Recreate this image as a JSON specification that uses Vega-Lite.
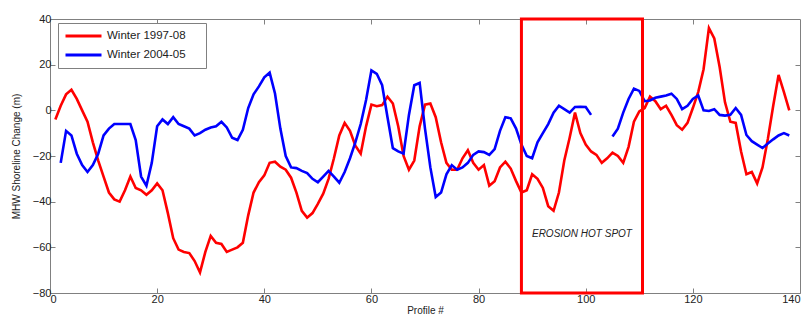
{
  "$schema": "https://vega.github.io/schema/vega-lite/v6.json",
  "width": 750,
  "height": 274,
  "autosize": {"type": "none"},
  "padding": {"left": 50, "top": 19, "right": 8, "bottom": 27},
  "background": "white",
  "config": {
    "font": "Liberation Sans",
    "view": {"stroke": "#808080", "strokeWidth": 1},
    "axis": {
      "domain": false,
      "grid": false,
      "tickColor": "#808080",
      "tickSize": -5,
      "labelColor": "#222222",
      "labelFontSize": 11,
      "titleColor": "#222222",
      "titleFontSize": 10,
      "titleFontWeight": "normal"
    }
  },
  "resolve": {"axis": {"x": "independent", "y": "independent"}},
  "datasets": {
    "lines": [
      {"p":1,"Winter 1997-08":-4,"Winter 2004-05":null},
      {"p":2,"Winter 1997-08":2,"Winter 2004-05":-23},
      {"p":3,"Winter 1997-08":7,"Winter 2004-05":-9},
      {"p":4,"Winter 1997-08":9,"Winter 2004-05":-11},
      {"p":5,"Winter 1997-08":5,"Winter 2004-05":-19},
      {"p":6,"Winter 1997-08":0,"Winter 2004-05":-24},
      {"p":7,"Winter 1997-08":-5,"Winter 2004-05":-27},
      {"p":8,"Winter 1997-08":-14,"Winter 2004-05":-24},
      {"p":9,"Winter 1997-08":-22,"Winter 2004-05":-19},
      {"p":10,"Winter 1997-08":-29,"Winter 2004-05":-11},
      {"p":11,"Winter 1997-08":-36,"Winter 2004-05":-8},
      {"p":12,"Winter 1997-08":-39,"Winter 2004-05":-6},
      {"p":13,"Winter 1997-08":-40,"Winter 2004-05":-6},
      {"p":14,"Winter 1997-08":-35,"Winter 2004-05":-6},
      {"p":15,"Winter 1997-08":-29,"Winter 2004-05":-6},
      {"p":16,"Winter 1997-08":-34,"Winter 2004-05":-13},
      {"p":17,"Winter 1997-08":-35,"Winter 2004-05":-29},
      {"p":18,"Winter 1997-08":-37,"Winter 2004-05":-33},
      {"p":19,"Winter 1997-08":-35,"Winter 2004-05":-23},
      {"p":20,"Winter 1997-08":-32,"Winter 2004-05":-7},
      {"p":21,"Winter 1997-08":-35,"Winter 2004-05":-4},
      {"p":22,"Winter 1997-08":-45,"Winter 2004-05":-6},
      {"p":23,"Winter 1997-08":-56,"Winter 2004-05":-3},
      {"p":24,"Winter 1997-08":-61,"Winter 2004-05":-6},
      {"p":25,"Winter 1997-08":-62,"Winter 2004-05":-7},
      {"p":26,"Winter 1997-08":-62.5,"Winter 2004-05":-8},
      {"p":27,"Winter 1997-08":-66,"Winter 2004-05":-11},
      {"p":28,"Winter 1997-08":-71,"Winter 2004-05":-10},
      {"p":29,"Winter 1997-08":-62,"Winter 2004-05":-8.5},
      {"p":30,"Winter 1997-08":-55,"Winter 2004-05":-7.5},
      {"p":31,"Winter 1997-08":-58,"Winter 2004-05":-7},
      {"p":32,"Winter 1997-08":-58.5,"Winter 2004-05":-5},
      {"p":33,"Winter 1997-08":-62,"Winter 2004-05":-7.5},
      {"p":34,"Winter 1997-08":-61,"Winter 2004-05":-12},
      {"p":35,"Winter 1997-08":-60,"Winter 2004-05":-13},
      {"p":36,"Winter 1997-08":-58,"Winter 2004-05":-8.5},
      {"p":37,"Winter 1997-08":-46,"Winter 2004-05":1},
      {"p":38,"Winter 1997-08":-36,"Winter 2004-05":7},
      {"p":39,"Winter 1997-08":-31.5,"Winter 2004-05":10.5},
      {"p":40,"Winter 1997-08":-28.5,"Winter 2004-05":14.5},
      {"p":41,"Winter 1997-08":-23,"Winter 2004-05":16.5},
      {"p":42,"Winter 1997-08":-22.5,"Winter 2004-05":7.4},
      {"p":43,"Winter 1997-08":-24.7,"Winter 2004-05":-8},
      {"p":44,"Winter 1997-08":-26,"Winter 2004-05":-20},
      {"p":45,"Winter 1997-08":-29.5,"Winter 2004-05":-25},
      {"p":46,"Winter 1997-08":-36,"Winter 2004-05":-25.3},
      {"p":47,"Winter 1997-08":-44,"Winter 2004-05":-26.5},
      {"p":48,"Winter 1997-08":-47,"Winter 2004-05":-27.5},
      {"p":49,"Winter 1997-08":-45,"Winter 2004-05":-30},
      {"p":50,"Winter 1997-08":-41,"Winter 2004-05":-31.5},
      {"p":51,"Winter 1997-08":-36.5,"Winter 2004-05":-29},
      {"p":52,"Winter 1997-08":-30,"Winter 2004-05":-26.5},
      {"p":53,"Winter 1997-08":-21,"Winter 2004-05":-29},
      {"p":54,"Winter 1997-08":-11,"Winter 2004-05":-31.7},
      {"p":55,"Winter 1997-08":-5.5,"Winter 2004-05":-27},
      {"p":56,"Winter 1997-08":-9,"Winter 2004-05":-21},
      {"p":57,"Winter 1997-08":-15.5,"Winter 2004-05":-14},
      {"p":58,"Winter 1997-08":-19,"Winter 2004-05":-6},
      {"p":59,"Winter 1997-08":-7,"Winter 2004-05":4.5},
      {"p":60,"Winter 1997-08":2.5,"Winter 2004-05":17.5},
      {"p":61,"Winter 1997-08":1.8,"Winter 2004-05":16},
      {"p":62,"Winter 1997-08":2.3,"Winter 2004-05":11},
      {"p":63,"Winter 1997-08":6,"Winter 2004-05":-3},
      {"p":64,"Winter 1997-08":3,"Winter 2004-05":-16.6},
      {"p":65,"Winter 1997-08":-7,"Winter 2004-05":-18},
      {"p":66,"Winter 1997-08":-20,"Winter 2004-05":-19},
      {"p":67,"Winter 1997-08":-26,"Winter 2004-05":-2},
      {"p":68,"Winter 1997-08":-22,"Winter 2004-05":11},
      {"p":69,"Winter 1997-08":-7,"Winter 2004-05":12},
      {"p":70,"Winter 1997-08":2.5,"Winter 2004-05":-8},
      {"p":71,"Winter 1997-08":3,"Winter 2004-05":-25},
      {"p":72,"Winter 1997-08":-3,"Winter 2004-05":-38},
      {"p":73,"Winter 1997-08":-14,"Winter 2004-05":-36},
      {"p":74,"Winter 1997-08":-23,"Winter 2004-05":-28},
      {"p":75,"Winter 1997-08":-26,"Winter 2004-05":-24},
      {"p":76,"Winter 1997-08":-26,"Winter 2004-05":-26},
      {"p":77,"Winter 1997-08":-21,"Winter 2004-05":-25},
      {"p":78,"Winter 1997-08":-17.5,"Winter 2004-05":-23},
      {"p":79,"Winter 1997-08":-23,"Winter 2004-05":-19.5},
      {"p":80,"Winter 1997-08":-26,"Winter 2004-05":-18},
      {"p":81,"Winter 1997-08":-24,"Winter 2004-05":-18.3},
      {"p":82,"Winter 1997-08":-33,"Winter 2004-05":-19.5},
      {"p":83,"Winter 1997-08":-31,"Winter 2004-05":-17},
      {"p":84,"Winter 1997-08":-25,"Winter 2004-05":-9},
      {"p":85,"Winter 1997-08":-22.5,"Winter 2004-05":-3},
      {"p":86,"Winter 1997-08":-25.5,"Winter 2004-05":-3.5},
      {"p":87,"Winter 1997-08":-31,"Winter 2004-05":-8},
      {"p":88,"Winter 1997-08":-36,"Winter 2004-05":-15},
      {"p":89,"Winter 1997-08":-35,"Winter 2004-05":-20},
      {"p":90,"Winter 1997-08":-28,"Winter 2004-05":-21},
      {"p":91,"Winter 1997-08":-30,"Winter 2004-05":-14},
      {"p":92,"Winter 1997-08":-34,"Winter 2004-05":-10},
      {"p":93,"Winter 1997-08":-42,"Winter 2004-05":-6},
      {"p":94,"Winter 1997-08":-44,"Winter 2004-05":-1},
      {"p":95,"Winter 1997-08":-36,"Winter 2004-05":2},
      {"p":96,"Winter 1997-08":-22,"Winter 2004-05":0.5},
      {"p":97,"Winter 1997-08":-12,"Winter 2004-05":-1},
      {"p":98,"Winter 1997-08":-1,"Winter 2004-05":1.5},
      {"p":99,"Winter 1997-08":-10,"Winter 2004-05":1.6},
      {"p":100,"Winter 1997-08":-15,"Winter 2004-05":1.5},
      {"p":101,"Winter 1997-08":-18,"Winter 2004-05":-2},
      {"p":102,"Winter 1997-08":-19.5,"Winter 2004-05":null},
      {"p":103,"Winter 1997-08":-23,"Winter 2004-05":null},
      {"p":104,"Winter 1997-08":-21,"Winter 2004-05":null},
      {"p":105,"Winter 1997-08":-18.5,"Winter 2004-05":-11.5},
      {"p":106,"Winter 1997-08":-20,"Winter 2004-05":-8},
      {"p":107,"Winter 1997-08":-23,"Winter 2004-05":-1},
      {"p":108,"Winter 1997-08":-16,"Winter 2004-05":5},
      {"p":109,"Winter 1997-08":-5,"Winter 2004-05":9.5},
      {"p":110,"Winter 1997-08":-0.5,"Winter 2004-05":8.5},
      {"p":111,"Winter 1997-08":1,"Winter 2004-05":4},
      {"p":112,"Winter 1997-08":6,"Winter 2004-05":4.3},
      {"p":113,"Winter 1997-08":4,"Winter 2004-05":5.5},
      {"p":114,"Winter 1997-08":0.5,"Winter 2004-05":6},
      {"p":115,"Winter 1997-08":2,"Winter 2004-05":6.5},
      {"p":116,"Winter 1997-08":-2,"Winter 2004-05":7.3},
      {"p":117,"Winter 1997-08":-6.5,"Winter 2004-05":5},
      {"p":118,"Winter 1997-08":-8.5,"Winter 2004-05":0.5},
      {"p":119,"Winter 1997-08":-5.5,"Winter 2004-05":2},
      {"p":120,"Winter 1997-08":1,"Winter 2004-05":5},
      {"p":121,"Winter 1997-08":8,"Winter 2004-05":6.5},
      {"p":122,"Winter 1997-08":18,"Winter 2004-05":0},
      {"p":123,"Winter 1997-08":36,"Winter 2004-05":-0.3},
      {"p":124,"Winter 1997-08":31.5,"Winter 2004-05":0.5},
      {"p":125,"Winter 1997-08":19,"Winter 2004-05":-2},
      {"p":126,"Winter 1997-08":3.5,"Winter 2004-05":-2.3},
      {"p":127,"Winter 1997-08":-5,"Winter 2004-05":-2},
      {"p":128,"Winter 1997-08":-5.5,"Winter 2004-05":1},
      {"p":129,"Winter 1997-08":-18,"Winter 2004-05":-2},
      {"p":130,"Winter 1997-08":-28,"Winter 2004-05":-10.8},
      {"p":131,"Winter 1997-08":-27,"Winter 2004-05":-13.5},
      {"p":132,"Winter 1997-08":-32,"Winter 2004-05":-15},
      {"p":133,"Winter 1997-08":-25,"Winter 2004-05":-16.5},
      {"p":134,"Winter 1997-08":-12.5,"Winter 2004-05":-14.5},
      {"p":135,"Winter 1997-08":2,"Winter 2004-05":-12.7},
      {"p":136,"Winter 1997-08":15.5,"Winter 2004-05":-11},
      {"p":137,"Winter 1997-08":8,"Winter 2004-05":-10},
      {"p":138,"Winter 1997-08":0,"Winter 2004-05":-11}
    ],
    "box": [{"start": 88, "end": 110.6, "label": "EROSION HOT SPOT"}]
  },
  "layer": [
    {
      "mark": {"type": "rule", "color": "#808080", "strokeWidth": 1},
      "encoding": {
        "y": {"datum": 0, "type": "quantitative", "scale": {"domain": [-80, 40], "nice": false}, "axis": null}
      }
    },
    {
      "data": {"name": "lines"},
      "transform": [{"fold": ["Winter 1997-08", "Winter 2004-05"], "as": ["series", "v"]}],
      "mark": {"type": "line", "strokeWidth": 2.6, "invalid": "break-paths-show-domains"},
      "encoding": {
        "x": {
          "field": "p", "type": "quantitative",
          "scale": {"domain": [0, 140], "nice": false},
          "axis": {"values": [0, 20, 40, 60, 80, 100, 120, 140], "title": "Profile #", "labelPadding": 5, "titlePadding": 1}
        },
        "y": {
          "field": "v", "type": "quantitative",
          "scale": {"domain": [-80, 40], "nice": false},
          "axis": {"values": [-80, -60, -40, -20, 0, 20, 40], "title": "MHW Shoreline Change (m)", "labelPadding": 4, "titlePadding": 11}
        },
        "color": {
          "field": "series", "type": "nominal",
          "scale": {"domain": ["Winter 1997-08", "Winter 2004-05"], "range": ["#ff0000", "#0000ff"]},
          "legend": {
            "orient": "none", "legendX": 8, "legendY": 4,
            "title": "\u00a0", "titleOrient": "right", "titleFontSize": 10, "titlePadding": 14,
            "symbolType": "stroke", "symbolSize": 1296, "symbolStrokeWidth": 3,
            "clipHeight": 14,
            "labelFontSize": 11.5, "labelColor": "#222222", "labelOffset": 4,
            "strokeColor": "#808080", "fillColor": "white", "padding": 6, "rowPadding": 5
          }
        }
      }
    },
    {
      "data": {"name": "box"},
      "mark": {"type": "rect", "fill": "white", "fillOpacity": 0, "stroke": "#ff0000", "strokeWidth": 3},
      "encoding": {
        "x": {"field": "start", "type": "quantitative", "axis": null},
        "x2": {"field": "end"},
        "y": {"datum": -80, "type": "quantitative", "axis": null},
        "y2": {"datum": 40}
      }
    },
    {
      "data": {"name": "box"},
      "mark": {"type": "text", "fontStyle": "italic", "fontSize": 10, "color": "#222222", "align": "center", "baseline": "middle"},
      "encoding": {
        "x": {"datum": 99.3, "type": "quantitative", "axis": {"orient": "top", "labels": false, "title": null, "values": [20, 40, 60, 80, 100, 120]}},
        "y": {"datum": -54, "type": "quantitative", "axis": {"orient": "right", "labels": false, "title": null, "values": [-60, -40, -20, 0, 20]}},
        "text": {"field": "label"}
      }
    }
  ]
}
